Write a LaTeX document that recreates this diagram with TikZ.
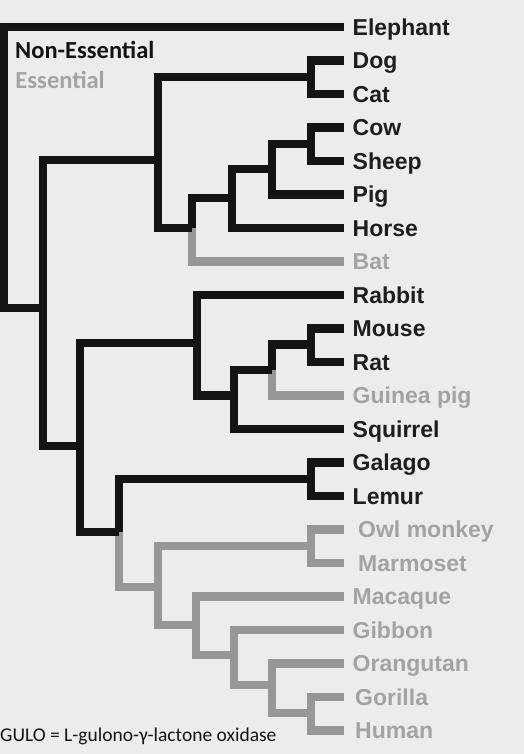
\documentclass[tikz,border=0pt]{standalone}
\usepackage{fontspec}
\setmainfont{Liberation Sans}
\newfontfamily\calfont{Carlito}
\definecolor{bg}{HTML}{ECECEC}
\definecolor{ink}{HTML}{141414}
\definecolor{gline}{HTML}{979797}
\definecolor{gtext}{HTML}{A3A3A3}
\definecolor{tink}{HTML}{1E1E1E}
\begin{document}
\begin{tikzpicture}[x=1pt,y=-1pt,
  br/.style={line width=8.5pt, line join=miter, draw=ink},
  gbr/.style={line width=8.5pt, line join=miter, draw=gline},
  lab/.style={anchor=base west, inner sep=0pt, font=\fontsize{23}{25}\selectfont\bfseries, text=tink},
  glab/.style={lab, text=gtext},
  legend/.style={anchor=base west, inner sep=0pt, font=\calfont\fontsize{24.5}{26}\selectfont\bfseries},
]
\fill[bg] (0,0) rectangle (524,754);
\useasboundingbox (0,0) rectangle (524,754);

% leaf ends
\coordinate (Elephant) at (344,27);
\coordinate (Dog) at (344,60.5);
\coordinate (Cat) at (344,94);
\coordinate (Cow) at (344,127.5);
\coordinate (Sheep) at (344,161);
\coordinate (Pig) at (344,194.5);
\coordinate (Horse) at (344,228);
\coordinate (Bat) at (344,261.5);
\coordinate (Rabbit) at (344,295);
\coordinate (Mouse) at (344,328.5);
\coordinate (Rat) at (344,362);
\coordinate (Guinea) at (344,395.5);
\coordinate (Squirrel) at (344,429);
\coordinate (Galago) at (344,462.5);
\coordinate (Lemur) at (344,496);
\coordinate (Owl) at (344,529.5);
\coordinate (Marmoset) at (344,563);
\coordinate (Macaque) at (344,596.5);
\coordinate (Gibbon) at (344,630);
\coordinate (Orangutan) at (344,663.5);
\coordinate (Gorilla) at (344,697);
\coordinate (Human) at (344,730.5);

% internal nodes (x of vertical, y of connection to parent)
\coordinate (root) at (4,308);
\coordinate (A) at (43,308);
\coordinate (Laura) at (158,160);
\coordinate (DC) at (311,77);
\coordinate (CSPHB) at (192,228);
\coordinate (CSPH) at (232,198);
\coordinate (CSP) at (272,169);
\coordinate (CS) at (311,144);
\coordinate (Euarch) at (80,446);
\coordinate (Glires) at (197,343);
\coordinate (MRGS) at (234,395.5);
\coordinate (MRG) at (272,370);
\coordinate (MR) at (311,344.5);
\coordinate (Prim) at (119,532);
\coordinate (GL) at (311,479);
\coordinate (Simian) at (158,587);
\coordinate (OM) at (311,546);
\coordinate (Catar) at (196,625);
\coordinate (Apes) at (234,655);
\coordinate (GApes) at (272,685);
\coordinate (Hom) at (311,713);

% gray (essential) branches
\draw[gbr] (CSPHB) |- (Bat);
\draw[gbr] (MRG) |- (Guinea);
\draw[gbr] (Prim) |- (Simian);
\draw[gbr] (OM) -| (Simian) |- (Catar);
\draw[gbr] (Owl) -| (OM) |- (Marmoset);
\draw[gbr] (Macaque) -| (Catar) |- (Apes);
\draw[gbr] (Gibbon) -| (Apes) |- (GApes);
\draw[gbr] (Orangutan) -| (GApes) |- (Hom);
\draw[gbr] (Gorilla) -| (Hom) |- (Human);

% black (non-essential) branches
\draw[br] (Elephant) -| (root) -- (A);
\draw[br] (Laura) -| (A) |- (Euarch);
\draw[br] (DC) -| (Laura) |- (CSPHB);
\draw[br] (Dog) -| (DC) |- (Cat);
\draw[br] (CSPH) -| (CSPHB);
\draw[br] (CSP) -| (CSPH) |- (Horse);
\draw[br] (CS) -| (CSP) |- (Pig);
\draw[br] (Cow) -| (CS) |- (Sheep);
\draw[br] (Glires) -| (Euarch) |- (Prim);
\draw[br] (Rabbit) -| (Glires) |- (MRGS);
\draw[br] (MRG) -| (MRGS) |- (Squirrel);
\draw[br] (MR) -| (MRG);
\draw[br] (Mouse) -| (MR) |- (Rat);
\draw[br] (GL) -| (Prim);
\draw[br] (Galago) -| (GL) |- (Lemur);

% labels
\node[lab] (tElephant) at (352.5,35.2) {Elephant};
\node[lab] (tDog) at (352.5,68.7) {Dog};
\node[lab] (tCat) at (352.5,102.2) {Cat};
\node[lab] (tCow) at (352.5,135.7) {Cow};
\node[lab] (tSheep) at (352.5,169.2) {Sheep};
\node[lab] (tPig) at (352.5,202.7) {Pig};
\node[lab] (tHorse) at (352.5,236.2) {Horse};
\node[glab] (tBat) at (352.5,269.7) {Bat};
\node[lab] (tRabbit) at (352.5,303.2) {Rabbit};
\node[lab] (tMouse) at (352.5,336.7) {Mouse};
\node[lab] (tRat) at (352.5,370.2) {Rat};
\node[glab] (tGuinea) at (352.5,403.7) {Guinea pig};
\node[lab] (tSquirrel) at (352.5,437.2) {Squirrel};
\node[lab] (tGalago) at (352.5,470.7) {Galago};
\node[lab] (tLemur) at (352.5,504.2) {Lemur};
\node[glab] (tOwl) at (358,537.7) {Owl monkey};
\node[glab] (tMarmoset) at (358,571.2) {Marmoset};
\node[glab] (tMacaque) at (352.5,604.7) {Macaque};
\node[glab] (tGibbon) at (352.5,638.2) {Gibbon};
\node[glab] (tOrangutan) at (352.5,671.7) {Orangutan};
\node[glab] (tGorilla) at (355,705.2) {Gorilla};
\node[glab] (tHuman) at (355,738.7) {Human};

% legend
\node[legend, text=ink] (nonEss) at (15,58.3) {Non-Essential};
\node[legend, text=gtext] (ess) at (15.3,88.3) {Essential};
\node[anchor=base west, inner sep=0pt, font=\calfont\fontsize{19.5}{21}\selectfont, text=ink] (gulo) at (0,741.5) {GULO = L-gulono-γ-lactone oxidase};
\end{tikzpicture}
\end{document}
